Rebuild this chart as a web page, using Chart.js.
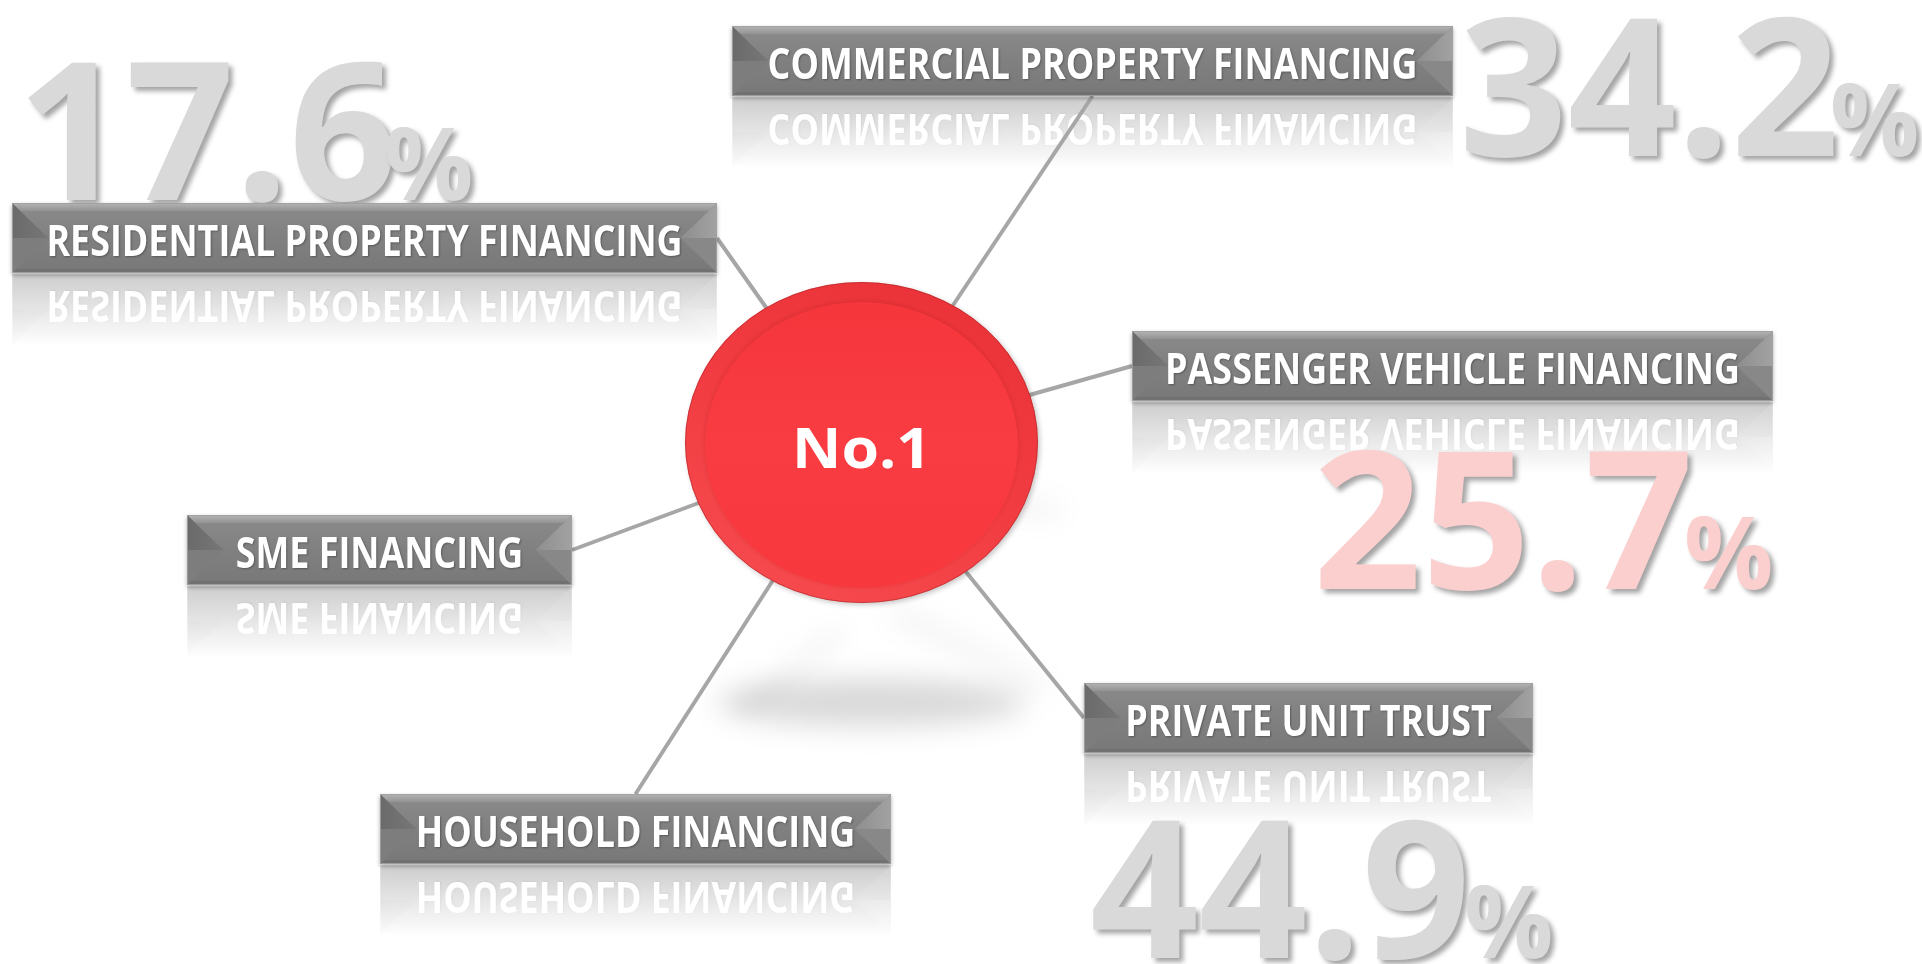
<!DOCTYPE html>
<html>
<head>
<meta charset="utf-8">
<style>
html,body{margin:0;padding:0;background:#ffffff;overflow:hidden}
#wrap{width:1922px;height:964px;position:relative}
canvas{display:block}
</style>
<script src="https://cdn.jsdelivr.net/npm/chart.js@4.4.1/dist/chart.umd.min.js"></script>
</head>
<body>
<div id="wrap"><canvas id="c" width="1922" height="964"></canvas></div>
<script>
// ---------------- DATA ----------------
const categories = [
  'RESIDENTIAL PROPERTY FINANCING',
  'COMMERCIAL PROPERTY FINANCING',
  'PASSENGER VEHICLE FINANCING',
  'SME FINANCING',
  'HOUSEHOLD FINANCING',
  'PRIVATE UNIT TRUST'
];
const shareValues = [17.6, 34.2, 25.7, null, null, 44.9];
const valueUnit = '%';
const centerLabel = 'No.1';

// ---------------- LAYOUT (pixels in a 1922 x 964 frame) ----------------
const W = 1922, H = 964;
const hub = { x: 861.5, y: 442.5, rx: 176.5, ry: 160.5 };
const boxes = [
  { x0: 12,   y0: 203, x1: 717,  y1: 273, anchor: 'right'  },
  { x0: 732,  y0: 26,  x1: 1453, y1: 96,  anchor: 'bottom' },
  { x0: 1132, y0: 331, x1: 1773, y1: 401, anchor: 'left'   },
  { x0: 187,  y0: 515, x1: 572,  y1: 585, anchor: 'right'  },
  { x0: 380,  y0: 794, x1: 891,  y1: 864, anchor: 'top'    },
  { x0: 1084, y0: 683, x1: 1533, y1: 753, anchor: 'left'   }
];
const valueSpots = [
  { x: 28,   base: 200, color: '#d9d9d9' },
  { x: 1466, base: 156, color: '#d9d9d9' },
  { x: 1320, base: 589, color: '#fccfcf' },
  null,
  null,
  { x: 1093, base: 958, color: '#d9d9d9' }
];
const LABEL_CAP = 31, LABEL_REF_WIDTH = 631;      // residential label visual width
const DIGIT_CAP = 140, DIGIT_REF_WIDTH = 371;      // "44.9" visual width
const PCT_CAP = 73, PCT_GAP = 6;
const HUB_CAP = 40, HUB_WIDTH = 125;
const FAMILY = '"Open Sans", "DejaVu Sans", sans-serif';

function anchorOf(b) {
  const cx = (b.x0 + b.x1) / 2, cy = (b.y0 + b.y1) / 2;
  switch (b.anchor) {
    case 'right': return { x: b.x1, y: cy };
    case 'left': return { x: b.x0, y: cy };
    case 'top': return { x: cx, y: b.y0 };
    default: return { x: cx, y: b.y1 };
  }
}

function poly(c, pts) {
  c.beginPath();
  c.moveTo(pts[0][0], pts[0][1]);
  for (let i = 1; i < pts.length; i++) c.lineTo(pts[i][0], pts[i][1]);
  c.closePath();
  c.fill();
}

function fontSizeForCap(c, weight, cap, probe) {
  c.font = weight + ' 100px ' + FAMILY;
  const a = c.measureText(probe || 'H').actualBoundingBoxAscent;
  return 100 * cap / a;
}

let labelSize = 43, labelSX = 0.85;

function drawBevelBox(c, x, y, w, h, text) {
  const mid = y + h / 2, b = h * 0.52, half = h / 2;
  let g = c.createLinearGradient(0, y, 0, y + h);
  g.addColorStop(0, '#8b8b8b'); g.addColorStop(0.5, '#808080'); g.addColorStop(1, '#787878');
  c.fillStyle = g; c.fillRect(x, y, w, h);
  const t = 8, tb = 4;
  const dt = b * t / half, db = b * tb / half;
  // top band
  g = c.createLinearGradient(0, y, 0, y + t);
  g.addColorStop(0, '#b4b4b4'); g.addColorStop(1, '#939393');
  c.fillStyle = g;
  poly(c, [[x, y], [x + w, y], [x + w - dt, y + t], [x + dt, y + t]]);
  // bottom band
  c.fillStyle = '#717171';
  poly(c, [[x, y + h], [x + w, y + h], [x + w - db, y + h - tb], [x + db, y + h - tb]]);
  // left wedge
  g = c.createLinearGradient(x, 0, x + b, 0);
  g.addColorStop(0, '#6a6a6a'); g.addColorStop(1, '#777777');
  c.fillStyle = g;
  poly(c, [[x, y], [x + dt, y + t], [x + b, mid], [x, mid]]);
  c.fillStyle = '#7d7d7d';
  poly(c, [[x, mid], [x + b, mid], [x + db, y + h - tb], [x, y + h]]);
  // right wedge
  g = c.createLinearGradient(x + w, 0, x + w - b, 0);
  g.addColorStop(0, '#a2a2a2'); g.addColorStop(1, '#8e8e8e');
  c.fillStyle = g;
  poly(c, [[x + w, y], [x + w - dt, y + t], [x + w - b, mid], [x + w, mid]]);
  c.fillStyle = '#888888';
  poly(c, [[x + w, mid], [x + w - b, mid], [x + w - db, y + h - tb], [x + w, y + h]]);
  // border
  c.strokeStyle = 'rgba(160,160,160,0.9)';
  c.lineWidth = 1;
  c.strokeRect(x + 0.5, y + 0.5, w - 1, h - 1);
  // text
  c.save();
  c.font = 'bold ' + labelSize + 'px ' + FAMILY;
  c.textAlign = 'center';
  c.textBaseline = 'alphabetic';
  c.fillStyle = '#ffffff';
  c.shadowColor = 'rgba(0,0,0,0.3)';
  c.shadowBlur = 2; c.shadowOffsetX = 1; c.shadowOffsetY = 1;
  c.translate(x + w / 2, mid + LABEL_CAP / 2 + 2);
  c.scale(labelSX, 1);
  c.fillText(text, 0, 0);
  c.restore();
}

function makeBoxCanvas(w, h, text) {
  const cv = document.createElement('canvas');
  cv.width = w; cv.height = h;
  drawBevelBox(cv.getContext('2d'), 0, 0, w, h, text);
  return cv;
}

function makeReflection(src, w, h) {
  const cv = document.createElement('canvas');
  const rh = Math.round(h * 1.05);
  cv.width = w; cv.height = rh;
  const r = cv.getContext('2d');
  r.save();
  r.translate(0, h);
  r.scale(1, -1);
  r.drawImage(src, 0, 0);
  r.restore();
  r.globalCompositeOperation = 'destination-in';
  const g = r.createLinearGradient(0, 0, 0, rh);
  g.addColorStop(0, 'rgba(0,0,0,0.38)');
  g.addColorStop(0.55, 'rgba(0,0,0,0.17)');
  g.addColorStop(1, 'rgba(0,0,0,0)');
  r.fillStyle = g;
  r.fillRect(0, 0, w, rh);
  return cv;
}

const diagramPlugin = {
  id: 'diagram',
  beforeDatasetsDraw(chart) {
    const c = chart.ctx;
    const sx = chart.scales.x, sy = chart.scales.y;
    const X = v => sx.getPixelForValue(v), Y = v => sy.getPixelForValue(v);

    // soft ground shadow under the hub
    c.save();
    c.filter = 'blur(14px)';
    c.fillStyle = 'rgba(0,0,0,0.15)';
    c.beginPath();
    c.ellipse(X(hub.x + 10), Y(hub.y + 260), 155, 24, 0, 0, Math.PI * 2);
    c.fill();
    c.strokeStyle = 'rgba(0,0,0,0.09)';
    c.lineWidth = 9;
    c.beginPath(); c.moveTo(X(737), Y(713)); c.lineTo(X(840), Y(633)); c.stroke();
    c.beginPath(); c.moveTo(X(890), Y(610)); c.lineTo(X(1047), Y(690)); c.stroke();
    c.beginPath(); c.moveTo(X(985), Y(505)); c.lineTo(X(1060), Y(510)); c.stroke();
    c.restore();

    // reflections
    boxes.forEach((b, i) => {
      const x0 = X(b.x0), y0 = Y(b.y0), x1 = X(b.x1), y1 = Y(b.y1);
      const w = Math.round(x1 - x0), h = Math.round(y1 - y0);
      const src = makeBoxCanvas(w, h, categories[i]);
      const refl = makeReflection(src, w, h);
      c.drawImage(refl, x0, y1 + 1);
    });

    // big percentage figures
    const digitSize = fontSizeForCap(c, 'bold', DIGIT_CAP, '0');
    const pctSize = fontSizeForCap(c, 'bold', PCT_CAP, '%');
    c.font = 'bold ' + digitSize + 'px ' + FAMILY;
    const ref = c.measureText('44.9');
    const digitSX = DIGIT_REF_WIDTH / (ref.actualBoundingBoxLeft + ref.actualBoundingBoxRight);
    shareValues.forEach((v, i) => {
      const s = valueSpots[i];
      if (v === null || !s) return;
      const txt = v.toFixed(1);
      c.save();
      c.font = 'bold ' + digitSize + 'px ' + FAMILY;
      const m = c.measureText(txt);
      c.fillStyle = s.color;
      c.shadowColor = 'rgba(0,0,0,0.36)';
      c.shadowBlur = 5; c.shadowOffsetX = 4; c.shadowOffsetY = 4;
      const left = X(s.x), base = Y(s.base);
      c.translate(left, base);
      c.scale(digitSX, 1);
      c.fillText(txt, m.actualBoundingBoxLeft, 0);
      const endX = m.actualBoundingBoxLeft + m.actualBoundingBoxRight + m.actualBoundingBoxLeft;
      c.font = 'bold ' + pctSize + 'px ' + FAMILY;
      const pm = c.measureText(valueUnit);
      c.fillText(valueUnit, endX + PCT_GAP + pm.actualBoundingBoxLeft, 0);
      c.restore();
    });
  },
  afterDatasetsDraw(chart) {
    const c = chart.ctx;
    const sx = chart.scales.x, sy = chart.scales.y;
    const X = v => sx.getPixelForValue(v), Y = v => sy.getPixelForValue(v);

    // label boxes
    boxes.forEach((b, i) => {
      const x0 = X(b.x0), y0 = Y(b.y0), x1 = X(b.x1), y1 = Y(b.y1);
      const w = Math.round(x1 - x0), h = Math.round(y1 - y0);
      const src = makeBoxCanvas(w, h, categories[i]);
      c.save();
      c.shadowColor = 'rgba(0,0,0,0.32)';
      c.shadowBlur = 4; c.shadowOffsetY = 2;
      c.drawImage(src, x0, y0);
      c.restore();
    });

    // hub: outer ring
    const cx = X(hub.x), cy = Y(hub.y);
    c.save();
    c.shadowColor = 'rgba(0,0,0,0.22)';
    c.shadowBlur = 5; c.shadowOffsetX = 2; c.shadowOffsetY = 2;
    let g = c.createLinearGradient(cx + hub.rx * 0.4, cy - hub.ry, cx - hub.rx * 0.4, cy + hub.ry);
    g.addColorStop(0, '#ea3338');
    g.addColorStop(0.5, '#f13c41');
    g.addColorStop(1, '#f64a4e');
    c.fillStyle = g;
    c.beginPath(); c.ellipse(cx, cy, hub.rx, hub.ry, 0, 0, Math.PI * 2); c.fill();
    c.restore();
    c.strokeStyle = 'rgba(170,40,40,0.55)';
    c.lineWidth = 1;
    c.beginPath(); c.ellipse(cx, cy, hub.rx - 0.5, hub.ry - 0.5, 0, 0, Math.PI * 2); c.stroke();
    // inner face
    c.save();
    c.shadowColor = 'rgba(150,10,10,0.22)';
    c.shadowBlur = 5; c.shadowOffsetY = -1;
    g = c.createLinearGradient(0, cy - hub.ry, 0, cy + hub.ry);
    g.addColorStop(0, '#f4363b');
    g.addColorStop(0.5, '#f93c42');
    g.addColorStop(1, '#f7383d');
    c.fillStyle = g;
    c.beginPath(); c.ellipse(cx, cy + 2.5, hub.rx - 20, hub.ry - 17.5, 0, 0, Math.PI * 2); c.fill();
    c.restore();

    // hub label
    const hs = fontSizeForCap(c, 'bold', HUB_CAP, 'N');
    c.save();
    c.font = 'bold ' + hs + 'px ' + FAMILY;
    const hm = c.measureText(centerLabel);
    const hsx = HUB_WIDTH / (hm.actualBoundingBoxLeft + hm.actualBoundingBoxRight);
    c.fillStyle = '#ffffff';
    c.textAlign = 'center';
    c.translate(cx, cy + 25.5);
    c.scale(hsx, 1);
    c.fillText(centerLabel, 0, 0);
    c.restore();
  }
};

function init() {
  const canvas = document.getElementById('c');
  const ctx = canvas.getContext('2d');
  labelSize = fontSizeForCap(ctx, 'bold', LABEL_CAP, 'H');
  ctx.font = 'bold ' + labelSize + 'px ' + FAMILY;
  const lm = ctx.measureText(categories[0]);
  labelSX = LABEL_REF_WIDTH / (lm.actualBoundingBoxLeft + lm.actualBoundingBoxRight);

  const connectorSets = boxes.map((b, i) => {
    const a = anchorOf(b);
    return {
      label: categories[i],
      type: 'line',
      data: [{ x: a.x, y: a.y }, { x: hub.x, y: hub.y }],
      borderColor: '#a6a6a6',
      borderWidth: 4,
      pointRadius: 0,
      fill: false,
      tension: 0
    };
  });
  const nodeSet = {
    label: 'nodes',
    type: 'scatter',
    data: boxes.map((b, i) => ({ x: (b.x0 + b.x1) / 2, y: (b.y0 + b.y1) / 2, v: shareValues[i] })),
    pointRadius: 0
  };

  new Chart(canvas, {
    type: 'scatter',
    data: { datasets: connectorSets.concat([nodeSet]) },
    options: {
      responsive: false,
      devicePixelRatio: 1,
      animation: false,
      layout: { padding: 0 },
      plugins: { legend: { display: false }, tooltip: { enabled: false } },
      scales: {
        x: { type: 'linear', min: 0, max: W, display: false },
        y: { type: 'linear', min: 0, max: H, reverse: true, display: false }
      },
      elements: { line: { borderCapStyle: 'butt' } }
    },
    plugins: [diagramPlugin]
  });
}

if (document.fonts && document.fonts.load) {
  Promise.all([
    document.fonts.load('bold 40px "Open Sans"'),
    document.fonts.load('40px "Open Sans"')
  ]).then(init, init);
} else {
  init();
}
</script>
</body>
</html>
